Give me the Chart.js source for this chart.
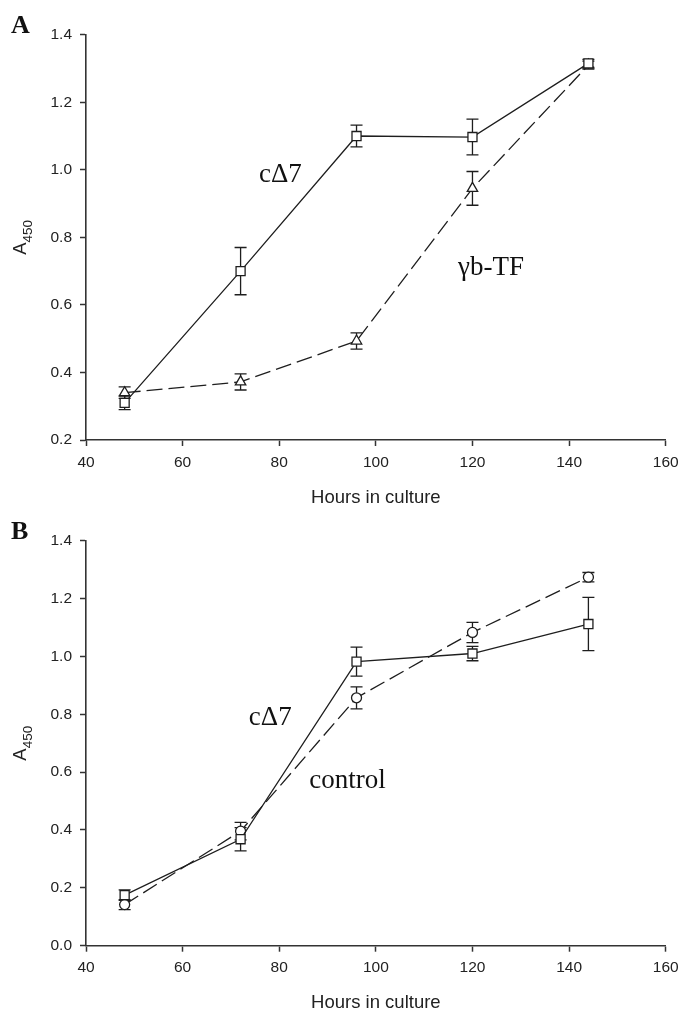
<!DOCTYPE html>
<html>
<head>
<meta charset="utf-8">
<script src="https://cdn.jsdelivr.net/npm/chart.js@4.4.1/dist/chart.umd.min.js"></script>
<style>
    html, body { margin: 0; padding: 0; background: #fff; }
    #wrap { position: relative; width: 680px; height: 1009px; }
    canvas { position: absolute; left: 0; }
    #chartA { top: 0; }
    #chartB { top: 505px; }
</style>
</head>
<body>
<div id="wrap">
    <canvas id="chartA" width="680" height="505"></canvas>
    <canvas id="chartB" width="680" height="504"></canvas>
</div>
<script>
// data (A450 vs hours in culture)
const hours = [48, 72, 96, 120, 144];
const xTicks = [40, 60, 80, 100, 120, 140, 160];

// panel A
const cd7A = [0.31, 0.70, 1.10, 1.097, 1.315];
const cd7AErr = [0.02, 0.07, 0.032, 0.053, 0.012];
const gbtfA = [0.34, 0.372, 0.493, 0.945, 1.31];
const gbtfAErr = [0.017, 0.024, 0.024, 0.05, 0.012];
const yTicksA = [0.2, 0.4, 0.6, 0.8, 1.0, 1.2, 1.4];

// panel B
const cd7B = [0.175, 0.368, 0.982, 1.01, 1.112];
const cd7BErr = [0.018, 0.04, 0.05, 0.025, 0.092];
const ctrlB = [0.142, 0.396, 0.857, 1.083, 1.274];
const ctrlBErr = [0.017, 0.03, 0.038, 0.035, 0.016];
const yTicksB = [0.0, 0.2, 0.4, 0.6, 0.8, 1.0, 1.2, 1.4];

// text labels placed in data units
const labelsA = [
    { text: "c\u03947", x: 75.8, y: 0.965 },
    { text: "\u03b3b-TF", x: 117, y: 0.689 }
];
const labelsB = [
    { text: "c\u03947", x: 73.7, y: 0.764 },
    { text: "control", x: 86.2, y: 0.544 }
];

const INK = '#1e1e1e';
const AXIS = '#333';
const SANS = '"Liberation Sans", Arial, sans-serif';
const SERIF = '"Liberation Serif", "Times New Roman", serif';
const CAP = 6;

function toPoints(xs, ys) {
    return xs.map((x, i) => ({ x: x, y: ys[i] }));
}

const errorBarPlugin = {
    id: 'errorBars',
    beforeDatasetsDraw(chart) {
        const ctx = chart.ctx;
        const xs = chart.scales.x;
        const ys = chart.scales.y;
        ctx.save();
        ctx.strokeStyle = INK;
        ctx.lineWidth = 1.3;
        chart.data.datasets.forEach(ds => {
            ds.data.forEach((p, i) => {
                const e = ds.errors[i];
                const x = xs.getPixelForValue(p.x);
                const yTop = ys.getPixelForValue(p.y + e);
                const yBot = ys.getPixelForValue(p.y - e);
                ctx.beginPath();
                ctx.moveTo(x, yTop);
                ctx.lineTo(x, yBot);
                ctx.moveTo(x - CAP, yTop);
                ctx.lineTo(x + CAP, yTop);
                ctx.moveTo(x - CAP, yBot);
                ctx.lineTo(x + CAP, yBot);
                ctx.stroke();
            });
        });
        ctx.restore();
    }
};

const textPlugin = {
    id: 'panelText',
    afterDraw(chart) {
        const opts = chart.options.plugins.panelText;
        const ctx = chart.ctx;
        const area = chart.chartArea;
        const xs = chart.scales.x;
        const ys = chart.scales.y;
        ctx.save();
        ctx.fillStyle = '#111';
        ctx.textBaseline = 'alphabetic';

        // panel letter
        ctx.font = 'bold 26px ' + SERIF;
        ctx.textAlign = 'left';
        ctx.fillText(opts.letter, 11, area.top - 1.5);

        // annotations
        ctx.font = '27px ' + SERIF;
        opts.labels.forEach(l => {
            ctx.fillText(l.text, xs.getPixelForValue(l.x), ys.getPixelForValue(l.y));
        });

        // x axis title
        ctx.font = '18.5px ' + SANS;
        ctx.textAlign = 'center';
        ctx.fillStyle = '#222';
        ctx.fillText('Hours in culture', (area.left + area.right) / 2, area.bottom + 62.5);

        // y axis title A450, rotated
        ctx.translate(25.5, (area.top + area.bottom) / 2);
        ctx.rotate(-Math.PI / 2);
        ctx.font = '18.5px ' + SANS;
        const wA = ctx.measureText('A').width;
        ctx.font = '13.5px ' + SANS;
        const wSub = ctx.measureText('450').width;
        const start = -(wA + wSub) / 2;
        ctx.textAlign = 'left';
        ctx.font = '18.5px ' + SANS;
        ctx.fillText('A', start, 0);
        ctx.font = '13.5px ' + SANS;
        ctx.fillText('450', start + wA, 6);
        ctx.restore();
    }
};

function makeChart(canvasId, panel) {
    const ctx = document.getElementById(canvasId).getContext('2d');
    return new Chart(ctx, {
        type: 'scatter',
        data: {
            datasets: panel.datasets
        },
        options: {
            responsive: false,
            animation: false,
            events: [],
            layout: {
                padding: { top: panel.top, right: 14.3, left: 0, bottom: 0 }
            },
            plugins: {
                legend: { display: false },
                tooltip: { enabled: false },
                panelText: { letter: panel.letter, labels: panel.labels }
            },
            scales: {
                x: {
                    type: 'linear',
                    min: 40,
                    max: 160,
                    afterFit: scale => {
                        scale.height = panel.xHeight;
                        scale.paddingLeft = 0;
                        scale.paddingRight = 0;
                    },
                    afterBuildTicks: scale => { scale.ticks = xTicks.map(v => ({ value: v })); },
                    ticks: {
                        color: '#222',
                        font: { family: SANS, size: 15.5 },
                        padding: 7,
                        maxRotation: 0,
                        callback: v => v
                    },
                    grid: {
                        drawOnChartArea: false,
                        drawTicks: true,
                        tickLength: 6,
                        tickWidth: 1.5,
                        tickColor: AXIS
                    },
                    border: { display: true, color: AXIS, width: 1.6 }
                },
                y: {
                    type: 'linear',
                    min: panel.yTicks[0],
                    max: panel.yTicks[panel.yTicks.length - 1],
                    afterFit: scale => { scale.width = 86; },
                    afterBuildTicks: scale => { scale.ticks = panel.yTicks.map(v => ({ value: v })); },
                    ticks: {
                        color: '#222',
                        font: { family: SANS, size: 15.5 },
                        padding: 8,
                        callback: v => Number(v).toFixed(1)
                    },
                    grid: {
                        drawOnChartArea: false,
                        drawTicks: true,
                        tickLength: 6,
                        tickWidth: 1.5,
                        tickColor: AXIS
                    },
                    border: { display: true, color: AXIS, width: 1.6 }
                }
            }
        },
        plugins: [errorBarPlugin, textPlugin]
    });
}

function series(label, values, errors, style, dashed) {
    return {
        label: label,
        data: toPoints(hours, values),
        errors: errors,
        showLine: true,
        borderColor: INK,
        borderWidth: 1.3,
        borderDash: dashed ? [16, 6] : [],
        pointStyle: style,
        pointRadius: style === 'circle' ? 5 : (style === 'rect' ? 6.4 : 6),
        pointBorderWidth: 1.3,
        pointBorderColor: INK,
        pointBackgroundColor: '#fff'
    };
}

makeChart('chartA', {
    letter: 'A',
    top: 34.7,
    xHeight: 65,
    yTicks: yTicksA,
    labels: labelsA,
    datasets: [
        series('c\u03947', cd7A, cd7AErr, 'rect', false),
        series('\u03b3b-TF', gbtfA, gbtfAErr, 'triangle', true)
    ]
});

makeChart('chartB', {
    letter: 'B',
    top: 35.7,
    xHeight: 63.3,
    yTicks: yTicksB,
    labels: labelsB,
    datasets: [
        series('c\u03947', cd7B, cd7BErr, 'rect', false),
        series('control', ctrlB, ctrlBErr, 'circle', true)
    ]
});
</script>
</body>
</html>
